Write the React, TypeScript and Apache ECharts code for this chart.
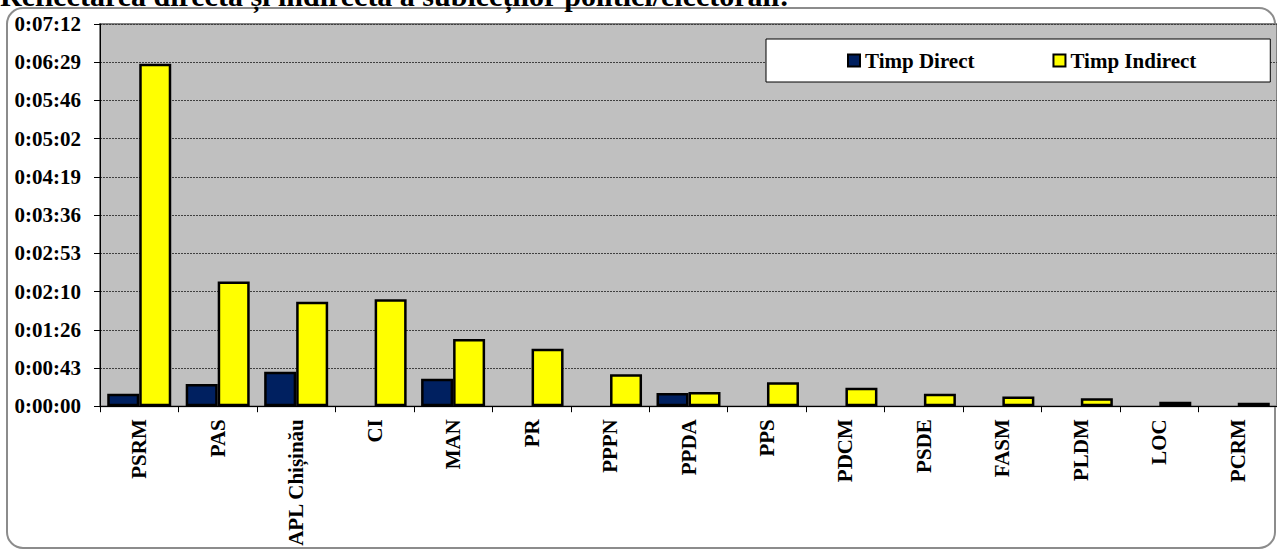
import React, { useEffect, useRef } from "react";
import * as echarts from "echarts";

const categories = ["PSRM", "PAS", "APL Chișinău", "CI", "MAN", "PR", "PPPN", "PPDA", "PPS", "PDCM", "PSDE", "FASM", "PLDM", "LOC", "PCRM"];
// seconds
const timpDirect: (number | null)[] = [14, 25, 39, null, 31, null, null, 15, null, null, null, null, null, null, null];
const timpIndirect: (number | null)[] = [387, 141, 118, 121, 76, 65, 36, 16, 27, 21, 14, 11, 9, 5, 4];
const seriesNames = ["Timp Direct", "Timp Indirect"];
const titleText = "Reflectarea directă și indirectă a subiecților politici/electorali:";

const FONT = '"Liberation Serif", "Times New Roman", serif';

function fmt(v: number): string {
  const s = Math.round(v);
  const h = Math.floor(s / 3600);
  const m = Math.floor((s % 3600) / 60);
  const sec = s % 60;
  return `${h}:${String(m).padStart(2, "0")}:${String(sec).padStart(2, "0")}`;
}

export default function App() {
  const ref = useRef<HTMLDivElement>(null);
  useEffect(() => {
    document.body.style.margin = "0";
    if (!ref.current) return;
    const chart = echarts.init(ref.current, undefined, { renderer: "svg" });
    chart.setOption({
      animation: false,
      graphic: [
        {
          type: "rect",
          z: -10,
          shape: { x: 7, y: 8, width: 1268, height: 540, r: 16 },
          style: { fill: "#fff", stroke: "#8c8c8c", lineWidth: 2 },
        },
        {
          type: "text",
          x: 0,
          y: -5,
          z: 10,
          style: {
            text: titleText,
            font: `bold 30px ${FONT}`,
            fill: "#000",
            verticalAlign: "middle",
          },
        },
      ],
      legend: {
        left: 766,
        top: 39,
        padding: [11, 74, 11, 81],
        itemGap: 78,
        itemWidth: 12,
        itemHeight: 12,
        icon: "rect",
        backgroundColor: "#fff",
        borderColor: "#000",
        borderWidth: 1,
        textStyle: { fontSize: 21, fontWeight: "bold", fontFamily: FONT, color: "#000", padding: [0, 0, 0, 0] },
        data: seriesNames,
      },
      grid: {
        left: 100,
        top: 24,
        width: 1185,
        height: 384,
        show: true,
        backgroundColor: "#c0c0c0",
        borderColor: "#808080",
        borderWidth: 2,
      },
      xAxis: {
        type: "category",
        data: categories,
        axisLine: { lineStyle: { color: "#000", width: 1 } },
        axisTick: { show: true, length: 6, lineStyle: { color: "#000" } },
        axisLabel: {
          rotate: 90,
          interval: 0,
          margin: 13,
          fontSize: 21,
          fontWeight: "bold",
          fontFamily: FONT,
          color: "#000",
        },
      },
      yAxis: {
        type: "value",
        min: 0,
        max: 432,
        interval: 43.2,
        axisLine: { show: true, lineStyle: { color: "#000", width: 1 } },
        axisTick: { show: true, length: 6, lineStyle: { color: "#000" } },
        axisLabel: {
          formatter: (v: number) => fmt(v),
          margin: 19,
          fontSize: 21,
          fontWeight: "bold",
          fontFamily: FONT,
          color: "#000",
        },
        splitLine: { show: true, lineStyle: { color: "#404040", width: 1, type: [2, 1] } },
      },
      series: [
        {
          name: seriesNames[0],
          type: "bar",
          data: timpDirect,
          barWidth: 32,
          barGap: "0%",
          itemStyle: { color: "#002060", borderColor: "#000", borderWidth: 2.5 },
        },
        {
          name: seriesNames[1],
          type: "bar",
          data: timpIndirect,
          barWidth: 32,
          barGap: "0%",
          itemStyle: { color: "#ffff00", borderColor: "#000", borderWidth: 2.5 },
        },
      ],
    });
    return () => chart.dispose();
  }, []);
  return <div ref={ref} style={{ width: 1277, height: 550 }} />;
}
